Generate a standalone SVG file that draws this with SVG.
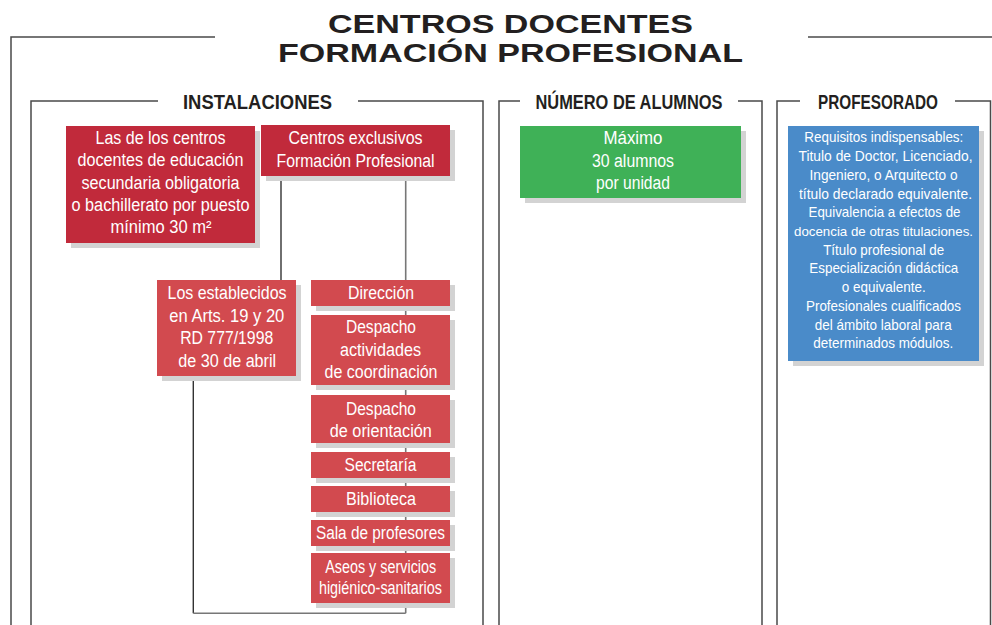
<svg xmlns="http://www.w3.org/2000/svg" width="992" height="625" viewBox="0 0 992 625">
<style>
.frame{fill:none;stroke:#4a4a4a;stroke-width:1.5}
.conn{fill:none;stroke:#333;stroke-width:1.4}
.conng{fill:none;stroke:#777;stroke-width:1.6}
.shadow{fill:#d3d3d3}
.dred{fill:#c12a3b}
.lred{fill:#d24a4f}
.green{fill:#3fb157}
.blue{fill:#4a8bc9}
.title{font-family:"Liberation Sans",Arial,sans-serif;font-weight:bold;font-size:26.5px;fill:#231f20;text-anchor:middle}
.head{font-family:"Liberation Sans",Arial,sans-serif;font-weight:bold;font-size:20.5px;fill:#231f20;text-anchor:middle}
.t{font-family:"Liberation Sans",Arial,sans-serif;font-size:17.6px;fill:#fff;text-anchor:middle}
.ts{font-family:"Liberation Sans",Arial,sans-serif;font-size:15px;fill:#fff;text-anchor:middle}
</style>
<rect width="992" height="625" fill="#fff"/>
<g id="title">
<text class="title" x="510.5" y="33" textLength="365" lengthAdjust="spacingAndGlyphs">CENTROS DOCENTES</text>
<text class="title" x="510.5" y="62" textLength="465" lengthAdjust="spacingAndGlyphs">FORMACIÓN PROFESIONAL</text>
</g>
<g id="frames">
<polyline class="frame" points="215,37 11,37 11,625"/>
<line class="frame" x1="808" y1="37" x2="992" y2="37"/>
<polyline class="frame" points="158,101 31,101 31,625"/>
<polyline class="frame" points="358,101 483,101 483,625"/>
<text class="head" x="257.5" y="109" textLength="149" lengthAdjust="spacingAndGlyphs">INSTALACIONES</text>
<polyline class="frame" points="520,101 499,101 499,625"/>
<polyline class="frame" points="738,101 762,101 762,625"/>
<text class="head" x="629" y="109" textLength="187" lengthAdjust="spacingAndGlyphs">NÚMERO DE ALUMNOS</text>
<polyline class="frame" points="800,101 777,101 777,625"/>
<polyline class="frame" points="955,101 990.5,101 990.5,625"/>
<text class="head" x="878" y="109" textLength="120" lengthAdjust="spacingAndGlyphs">PROFESORADO</text>
</g>
<g id="connectors">
<line class="conn" x1="281" y1="176" x2="281" y2="280"/>
<line class="conng" x1="405.7" y1="176" x2="405.7" y2="613.3"/>
<line class="conn" x1="193.3" y1="376" x2="193.3" y2="613.3"/>
<line class="conng" x1="193.3" y1="613.3" x2="405.7" y2="613.3"/>
</g>
<g id="node-aulas">
<rect class="shadow" x="71" y="131" width="189" height="117"/>
<rect class="dred" x="66" y="126" width="189" height="117"/>
<text class="t" x="160.5" y="144" textLength="130" lengthAdjust="spacingAndGlyphs">Las de los centros</text>
<text class="t" x="160.5" y="166.3" textLength="166" lengthAdjust="spacingAndGlyphs">docentes de educación</text>
<text class="t" x="160.5" y="188.6" textLength="158" lengthAdjust="spacingAndGlyphs">secundaria obligatoria</text>
<text class="t" x="160.5" y="210.9" textLength="178" lengthAdjust="spacingAndGlyphs">o bachillerato por puesto</text>
<text class="t" x="161" y="233.2" textLength="101" lengthAdjust="spacingAndGlyphs">mínimo 30 m²</text>
</g>
<g id="node-exclusivos">
<rect class="shadow" x="266" y="130" width="189" height="51"/>
<rect class="dred" x="261" y="125" width="189" height="51"/>
<text class="t" x="355.5" y="144.3" textLength="134" lengthAdjust="spacingAndGlyphs">Centros exclusivos</text>
<text class="t" x="355.5" y="166.7" textLength="158" lengthAdjust="spacingAndGlyphs">Formación Profesional</text>
</g>
<g id="node-alumnos">
<rect class="shadow" x="525" y="131" width="221" height="72"/>
<rect class="green" x="520" y="126" width="221" height="72"/>
<text class="t" x="633" y="144.3" textLength="59" lengthAdjust="spacingAndGlyphs">Máximo</text>
<text class="t" x="633" y="166.7" textLength="82" lengthAdjust="spacingAndGlyphs">30 alumnos</text>
<text class="t" x="633" y="188.6" textLength="74" lengthAdjust="spacingAndGlyphs">por unidad</text>
</g>
<g id="node-profesorado">
<rect class="shadow" x="793" y="131" width="191" height="235"/>
<rect class="blue" x="788" y="126" width="191" height="235"/>
<text class="ts" x="883.8" y="142.3" textLength="159" lengthAdjust="spacingAndGlyphs">Requisitos indispensables:</text>
<text class="ts" x="885.5" y="161" textLength="174" lengthAdjust="spacingAndGlyphs">Titulo de Doctor, Licenciado,</text>
<text class="ts" x="883.5" y="179.8" textLength="148" lengthAdjust="spacingAndGlyphs">Ingeniero, o Arquitecto o</text>
<text class="ts" x="885.5" y="198.5" textLength="173" lengthAdjust="spacingAndGlyphs">título declarado equivalente.</text>
<text class="ts" x="884.5" y="217.2" textLength="152" lengthAdjust="spacingAndGlyphs">Equivalencia a efectos de</text>
<text class="ts" x="883.5" y="236" style="font-size:13.4px" textLength="179" lengthAdjust="spacingAndGlyphs">docencia de otras titulaciones.</text>
<text class="ts" x="883.7" y="254.7" textLength="121" lengthAdjust="spacingAndGlyphs">Título profesional de</text>
<text class="ts" x="883.8" y="273.4" textLength="149" lengthAdjust="spacingAndGlyphs">Especialización didáctica</text>
<text class="ts" x="883.8" y="292.1" textLength="84" lengthAdjust="spacingAndGlyphs">o equivalente.</text>
<text class="ts" x="883.5" y="310.9" textLength="155" lengthAdjust="spacingAndGlyphs">Profesionales cualificados</text>
<text class="ts" x="883.3" y="329.6" textLength="137" lengthAdjust="spacingAndGlyphs">del ámbito laboral para</text>
<text class="ts" x="883.3" y="348.3" textLength="140" lengthAdjust="spacingAndGlyphs">determinados módulos.</text>
</g>
<g id="node-establecidos">
<rect class="shadow" x="162" y="285" width="139" height="96"/>
<rect class="lred" x="157" y="280" width="139" height="96"/>
<text class="t" x="227" y="299.3" textLength="119" lengthAdjust="spacingAndGlyphs">Los establecidos</text>
<text class="t" x="226.8" y="321.7" textLength="115" lengthAdjust="spacingAndGlyphs">en Arts. 19 y 20</text>
<text class="t" x="226.7" y="344" textLength="93" lengthAdjust="spacingAndGlyphs">RD 777/1998</text>
<text class="t" x="227.2" y="366.5" textLength="98" lengthAdjust="spacingAndGlyphs">de 30 de abril</text>
</g>
<g id="node-direccion">
<rect class="shadow" x="316" y="285" width="139" height="26"/>
<rect class="lred" x="311" y="280" width="139" height="26"/>
<text class="t" x="381" y="299.3" textLength="66" lengthAdjust="spacingAndGlyphs">Dirección</text>
</g>
<g id="node-coordinacion">
<rect class="shadow" x="316" y="320" width="139" height="70"/>
<rect class="lred" x="311" y="315" width="139" height="70"/>
<text class="t" x="381" y="333.3" textLength="70" lengthAdjust="spacingAndGlyphs">Despacho</text>
<text class="t" x="380.5" y="356" textLength="81" lengthAdjust="spacingAndGlyphs">actividades</text>
<text class="t" x="381" y="378.3" textLength="113" lengthAdjust="spacingAndGlyphs">de coordinación</text>
</g>
<g id="node-orientacion">
<rect class="shadow" x="316" y="400" width="139" height="48"/>
<rect class="lred" x="311" y="395" width="139" height="48"/>
<text class="t" x="381" y="415" textLength="70" lengthAdjust="spacingAndGlyphs">Despacho</text>
<text class="t" x="380.8" y="436.7" textLength="102" lengthAdjust="spacingAndGlyphs">de orientación</text>
</g>
<g id="node-secretaria">
<rect class="shadow" x="316" y="457" width="139" height="26"/>
<rect class="lred" x="311" y="452" width="139" height="26"/>
<text class="t" x="380.5" y="471" textLength="72" lengthAdjust="spacingAndGlyphs">Secretaría</text>
</g>
<g id="node-biblioteca">
<rect class="shadow" x="316" y="491" width="139" height="26"/>
<rect class="lred" x="311" y="486" width="139" height="26"/>
<text class="t" x="381" y="505" textLength="70" lengthAdjust="spacingAndGlyphs">Biblioteca</text>
</g>
<g id="node-sala">
<rect class="shadow" x="316" y="525" width="139" height="26"/>
<rect class="lred" x="311" y="520" width="139" height="26"/>
<text class="t" x="380.4" y="539" textLength="129" lengthAdjust="spacingAndGlyphs">Sala de profesores</text>
</g>
<g id="node-aseos">
<rect class="shadow" x="316" y="558" width="139" height="50"/>
<rect class="lred" x="311" y="553" width="139" height="50"/>
<text class="t" x="380.7" y="572.7" textLength="111" lengthAdjust="spacingAndGlyphs">Aseos y servicios</text>
<text class="t" x="380.4" y="594.3" textLength="123" lengthAdjust="spacingAndGlyphs">higiénico-sanitarios</text>
</g>
</svg>
